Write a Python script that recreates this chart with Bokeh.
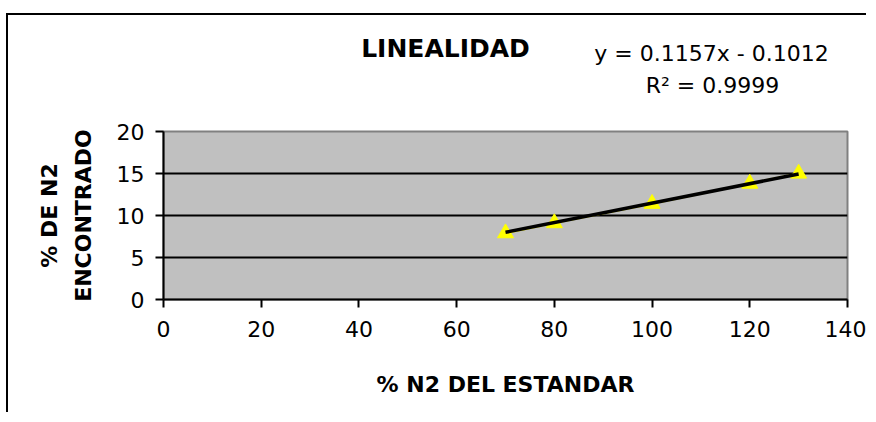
from bokeh.plotting import figure
from bokeh.models import Label, FixedTicker, LinearAxis
from bokeh.embed import file_html
from bokeh.resources import INLINE

# ---- data ----
x_std = [70, 80, 100, 120, 130]            # % N2 del estandar
y_found = [7.9, 9.1, 11.4, 13.8, 15.0]      # % de N2 encontrado
x_ticks = [0, 20, 40, 60, 80, 100, 120, 140]
y_ticks = [0, 5, 10, 15, 20]
grid_ticks = [5, 10, 15]
trend_slope = 0.1157
trend_intercept = -0.1012
r_squared = 0.9999

title_text = "LINEALIDAD"
x_title = "% N2 DEL ESTANDAR"
y_title_lines = ["% DE N2", "ENCONTRADO"]

FONT = "DejaVu Sans"

trend_x = [min(x_std), max(x_std)]
trend_y = [trend_slope * v + trend_intercept for v in trend_x]
sign = "-" if trend_intercept < 0 else "+"
eq_text = f"y = {trend_slope:.4f}x {sign} {abs(trend_intercept):.4f}"
r2_text = f"R\u00b2 = {r_squared:.4f}"

p = figure(width=860, height=399, x_range=(0, 140), y_range=(0, 20),
           output_backend="svg", toolbar_location=None,
           min_border_left=155, min_border_right=21,
           min_border_top=116, min_border_bottom=115)
p.styles = {"border-left": "2px solid black", "border-top": "2px solid black",
            "margin-left": "6px", "margin-top": "13px"}

p.background_fill_color = "#C0C0C0"
p.border_fill_color = "white"
p.outline_line_color = "#808080"
p.outline_line_width = 2

p.xgrid.visible = False
p.ygrid.ticker = FixedTicker(ticks=grid_ticks)
p.ygrid.grid_line_color = "black"
p.ygrid.grid_line_width = 2

for ax in (p.xaxis[0], p.yaxis[0]):
    ax.axis_line_color = "black"
    ax.axis_line_width = 2
    ax.major_tick_line_color = "black"
    ax.major_tick_line_width = 2
    ax.major_tick_in = 0
    ax.major_tick_out = 8
    ax.minor_tick_line_color = None
    ax.major_label_text_font = FONT
    ax.major_label_text_font_size = "22px"
    ax.major_label_text_color = "black"
    ax.axis_label_text_font = FONT
    ax.axis_label_text_font_style = "bold"
    ax.axis_label_text_font_size = "22px"
    ax.axis_label_text_color = "black"

p.xaxis[0].ticker = FixedTicker(ticks=x_ticks)
p.yaxis[0].ticker = FixedTicker(ticks=y_ticks)
p.xaxis[0].major_label_standoff = 13
p.yaxis[0].major_label_standoff = 11

p.xaxis[0].axis_label = x_title
p.xaxis[0].axis_label_standoff = 32
p.yaxis[0].axis_label = y_title_lines[1]
p.yaxis[0].axis_label_standoff = 18

# outer (label-only) axis carrying the first line of the y title
outer = LinearAxis(ticker=FixedTicker(ticks=[]), axis_line_color=None,
                   major_tick_line_color=None, minor_tick_line_color=None,
                   major_tick_out=0, major_tick_in=0, major_label_standoff=0,
                   axis_label=y_title_lines[0], axis_label_standoff=6,
                   axis_label_text_font=FONT, axis_label_text_font_style="bold",
                   axis_label_text_font_size="22px", axis_label_text_color="black")
p.add_layout(outer, "left")

# data series
p.line(x_std, y_found, line_color="#FFFF00", line_width=2)
p.scatter(x_std, y_found, marker="triangle", size=16,
          fill_color="#FFFF00", line_color="#FFFF00")
# linear trend line
p.line(trend_x, trend_y, line_color="black", line_width=3.5)

# texts above the plot area (placed in the "above" side panel so they are not clipped)
p.add_layout(Label(x=282, y=83, x_units="screen", y_units="screen", text=title_text,
                   text_font=FONT, text_font_style="bold", text_font_size="25px",
                   text_align="center", text_baseline="alphabetic", text_color="black"),
             "above")
p.add_layout(Label(x=548, y=49, x_units="screen", y_units="screen", text=eq_text,
                   text_font=FONT, text_font_size="22px",
                   text_align="center", text_baseline="alphabetic", text_color="black"),
             "above")
p.add_layout(Label(x=549, y=-8, x_units="screen", y_units="screen", text=r2_text,
                   text_font=FONT, text_font_size="22px",
                   text_align="center", text_baseline="alphabetic", text_color="black"),
             "above")

open("out.html", "w").write(file_html(p, INLINE))
